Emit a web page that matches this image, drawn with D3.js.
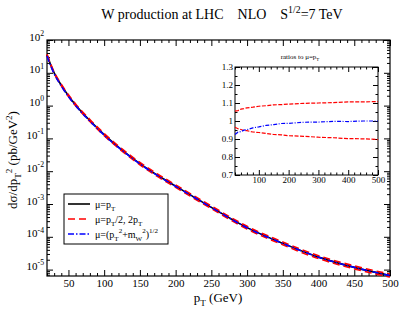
<!DOCTYPE html>
<html>
<head>
<meta charset="utf-8">
<script src="https://cdn.jsdelivr.net/npm/d3@7"></script>
<style>
  body { margin: 0; background: #fff; }
  text { font-family: "Liberation Serif", "DejaVu Serif", serif; fill: #000; }
</style>
</head>
<body>
<script>
// pT grid (GeV) shared by the main plot and the inset
var ptGrid = [20, 30, 40, 50, 60, 80, 100, 125, 150, 175, 200, 250, 300, 350, 400, 450, 500];
// d sigma / d pT^2 for mu = pT (pb/GeV^2)
var sigmaPt = [35, 10, 4.2, 2.0, 1.05, 0.35, 0.13, 0.044, 0.017, 0.0074, 0.0035, 7.9e-4, 1.9e-4, 6.3e-5, 2.4e-5, 1.17e-5, 6.6e-6];
// ratios to mu = pT
var ratioUp = [1.055, 1.058, 1.066, 1.069, 1.073, 1.077, 1.082, 1.085, 1.090, 1.091, 1.094, 1.098, 1.100, 1.102, 1.106, 1.106, 1.108];
var ratioDn = [0.965, 0.957, 0.953, 0.947, 0.946, 0.939, 0.936, 0.931, 0.925, 0.923, 0.918, 0.915, 0.910, 0.907, 0.902, 0.901, 0.897];
var ratioMw = [0.925, 0.938, 0.941, 0.949, 0.952, 0.962, 0.967, 0.976, 0.980, 0.986, 0.987, 0.993, 0.994, 0.998, 0.997, 1.000, 1.000];

var xTicks = [50, 100, 150, 200, 250, 300, 350, 400, 450, 500];
var yDecades = [-5, -4, -3, -2, -1, 0, 1, 2];
var insetXTicks = [100, 200, 300, 400, 500];
var insetYTicks = [0.7, 0.8, 0.9, 1.0, 1.1, 1.2, 1.3];

var W = 399, H = 311;
var svg = d3.select("body").append("svg").attr("width", W).attr("height", H);

// rich text with sub/superscripts
function rich(sel, parts, fs) {
    var cur = 0;
    parts.forEach(function(p) {
        var t = p[0], m = p[1];
        var target = m === "sup" ? -0.42 * fs : m === "sub" ? 0.3 * fs : 0;
        sel.append("tspan").attr("dy", target - cur)
            .attr("font-size", m ? fs * 0.7 : fs).text(t);
        cur = target;
    });
}

// main plot frame
var mL = 47, mR = 390, mT = 40, mB = 276;
var x = d3.scaleLinear().domain([20, 500]).range([mL, mR]);
var y = d3.scaleLog().domain([Math.pow(10, -5.195), 100]).range([mB, mT]);

var minorX = d3.range(20, 501, 10).filter(function(v) { return v % 50 !== 0; });
var minorY = [];
for (var e = -6; e <= 1; e++) for (var k = 2; k <= 9; k++) {
    var v = k * Math.pow(10, e);
    if (v >= y.domain()[0] && v <= 100) minorY.push(v);
}
var decVals = yDecades.map(function(d) { return Math.pow(10, d); });

function axes(g, a) { g.call(a).call(function(s) { s.select(".domain").remove(); }); }

// ticks inward on all four sides
axes(svg.append("g").attr("transform", "translate(0," + mB + ")"),
    d3.axisBottom(x).tickValues(xTicks).tickSizeInner(-6).tickSizeOuter(0).tickPadding(3));
axes(svg.append("g").attr("transform", "translate(0," + mB + ")"),
    d3.axisBottom(x).tickValues(minorX).tickSizeInner(-3).tickSizeOuter(0).tickFormat(""));
axes(svg.append("g").attr("transform", "translate(0," + mT + ")"),
    d3.axisTop(x).tickValues(xTicks).tickSizeInner(-6).tickSizeOuter(0).tickFormat(""));
axes(svg.append("g").attr("transform", "translate(0," + mT + ")"),
    d3.axisTop(x).tickValues(minorX).tickSizeInner(-3).tickSizeOuter(0).tickFormat(""));

var yAxisG = svg.append("g").attr("transform", "translate(" + mL + ",0)");
axes(yAxisG, d3.axisLeft(y).tickValues(decVals).tickSizeInner(-6).tickSizeOuter(0).tickPadding(3));
axes(svg.append("g").attr("transform", "translate(" + mL + ",0)"),
    d3.axisLeft(y).tickValues(minorY).tickSizeInner(-3).tickSizeOuter(0).tickFormat(""));
axes(svg.append("g").attr("transform", "translate(" + mR + ",0)"),
    d3.axisRight(y).tickValues(decVals).tickSizeInner(-6).tickSizeOuter(0).tickFormat(""));
axes(svg.append("g").attr("transform", "translate(" + mR + ",0)"),
    d3.axisRight(y).tickValues(minorY).tickSizeInner(-3).tickSizeOuter(0).tickFormat(""));

svg.selectAll(".tick text").attr("font-family", "Liberation Serif").attr("font-size", 11);
yAxisG.selectAll(".tick text").each(function(d) {
    var t = d3.select(this).text(null).attr("dy", "0.32em");
    rich(t, [["10", ""], [String(Math.round(Math.log10(d))), "sup"]], 11);
});

svg.append("rect").attr("x", mL).attr("y", mT).attr("width", mR - mL).attr("height", mB - mT)
    .attr("fill", "none").attr("stroke", "#000").attr("stroke-width", 1.2);

var line = d3.line().x(function(d) { return x(d[0]); }).y(function(d) { return y(d[1]); })
    .curve(d3.curveMonotoneX);

function series(vals) { return ptGrid.map(function(p, i) { return [p, vals[i]]; }); }
var main = series(sigmaPt);
var up = series(sigmaPt.map(function(s, i) { return s * ratioUp[i]; }));
var dn = series(sigmaPt.map(function(s, i) { return s * ratioDn[i]; }));
var mw = series(sigmaPt.map(function(s, i) { return s * ratioMw[i]; }));

svg.append("path").attr("d", line(main)).attr("fill", "none").attr("stroke", "#000").attr("stroke-width", 1.6);
[up, dn].forEach(function(s) {
    svg.append("path").attr("d", line(s)).attr("fill", "none").attr("stroke", "#ff0000")
        .attr("stroke-width", 1.6).attr("stroke-dasharray", "7,4");
});
svg.append("path").attr("d", line(mw)).attr("fill", "none").attr("stroke", "#0000ff")
    .attr("stroke-width", 1.6).attr("stroke-dasharray", "6,2,1.5,2");

// titles
var title = svg.append("text").attr("x", 222).attr("y", 19).attr("text-anchor", "middle")
    .attr("font-size", 14).attr("xml:space", "preserve");
rich(title, [["W production at LHC    NLO    S", ""], ["1/2", "sup"], ["=7 TeV", ""]], 14);

var xl = svg.append("text").attr("x", 218).attr("y", 302).attr("text-anchor", "middle");
rich(xl, [["p", ""], ["T", "sub"], [" (GeV)", ""]], 13);

var yl = svg.append("text").attr("transform", "translate(17,160) rotate(-90)").attr("text-anchor", "middle");
rich(yl, [["d\u03c3/dp", ""], ["T", "sub"], ["2", "sup"], [" (pb/GeV", ""], ["2", "sup"], [")", ""]], 13);

// legend
var lg = svg.append("g");
lg.append("rect").attr("x", 64).attr("y", 194).attr("width", 104).attr("height", 50)
    .attr("fill", "#fff").attr("stroke", "#000").attr("stroke-width", 1);
var legendRows = [
    { c: "#000", dash: null, parts: [["\u03bc=p", ""], ["T", "sub"]] },
    { c: "#ff0000", dash: "7,4", parts: [["\u03bc=p", ""], ["T", "sub"], ["/2, 2p", ""], ["T", "sub"]] },
    { c: "#0000ff", dash: "6,2,1.5,2", parts: [["\u03bc=(p", ""], ["T", "sub"], ["2", "sup"], ["+m", ""], ["W", "sub"], ["2", "sup"], [")", ""], ["1/2", "sup"]] }
];
legendRows.forEach(function(r, i) {
    var yy = 204 + i * 15;
    lg.append("line").attr("x1", 68).attr("x2", 90).attr("y1", yy).attr("y2", yy)
        .attr("stroke", r.c).attr("stroke-width", 1.6).attr("stroke-dasharray", r.dash);
    var t = lg.append("text").attr("x", 95).attr("y", yy + 3.5);
    rich(t, r.parts, 10);
});

// inset
var il = 235, ir = 378, it = 67, ib = 175;
var xi = d3.scaleLinear().domain([20, 500]).range([il, ir]);
var yi = d3.scaleLinear().domain([0.7, 1.3]).range([ib, it]);
var iMinorX = d3.range(20, 501, 20).filter(function(v) { return v % 100 !== 0; });
var iMinorY = [0.75, 0.85, 0.95, 1.05, 1.15, 1.25];

svg.append("rect").attr("x", il).attr("y", it).attr("width", ir - il).attr("height", ib - it)
    .attr("fill", "#fff").attr("stroke", "#000").attr("stroke-width", 1);

axes(svg.append("g").attr("transform", "translate(0," + ib + ")"),
    d3.axisBottom(xi).tickValues(insetXTicks).tickSizeInner(-5).tickSizeOuter(0).tickPadding(2));
axes(svg.append("g").attr("transform", "translate(0," + ib + ")"),
    d3.axisBottom(xi).tickValues(iMinorX).tickSizeInner(-2.5).tickSizeOuter(0).tickFormat(""));
axes(svg.append("g").attr("transform", "translate(0," + it + ")"),
    d3.axisTop(xi).tickValues(insetXTicks).tickSizeInner(-5).tickSizeOuter(0).tickFormat(""));
axes(svg.append("g").attr("transform", "translate(0," + it + ")"),
    d3.axisTop(xi).tickValues(iMinorX).tickSizeInner(-2.5).tickSizeOuter(0).tickFormat(""));
var iyG = svg.append("g").attr("transform", "translate(" + il + ",0)");
axes(iyG, d3.axisLeft(yi).tickValues(insetYTicks).tickSizeInner(-5).tickSizeOuter(0).tickPadding(2)
    .tickFormat(function(d) { return d3.format("~g")(d); }));
axes(svg.append("g").attr("transform", "translate(" + il + ",0)"),
    d3.axisLeft(yi).tickValues(iMinorY).tickSizeInner(-2.5).tickSizeOuter(0).tickFormat(""));
axes(svg.append("g").attr("transform", "translate(" + ir + ",0)"),
    d3.axisRight(yi).tickValues(insetYTicks).tickSizeInner(-5).tickSizeOuter(0).tickFormat(""));
axes(svg.append("g").attr("transform", "translate(" + ir + ",0)"),
    d3.axisRight(yi).tickValues(iMinorY).tickSizeInner(-2.5).tickSizeOuter(0).tickFormat(""));

svg.selectAll(".tick text").filter(function() { return !this.getAttribute("font-size"); })
    .attr("font-family", "Liberation Serif").attr("font-size", 9);

var iline = d3.line().x(function(d) { return xi(d[0]); }).y(function(d) { return yi(d[1]); });
[ratioUp, ratioDn].forEach(function(r) {
    svg.append("path").attr("d", iline(series(r))).attr("fill", "none").attr("stroke", "#ff0000")
        .attr("stroke-width", 1.2).attr("stroke-dasharray", "4,1.5");
});
svg.append("path").attr("d", iline(series(ratioMw))).attr("fill", "none").attr("stroke", "#0000ff")
    .attr("stroke-width", 1.2).attr("stroke-dasharray", "4,1.5,1,1.5");

var itl = svg.append("text").attr("x", 300).attr("y", 59).attr("text-anchor", "middle");
rich(itl, [["ratios  to  \u03bc=p", ""], ["T", "sub"]], 7);
</script>
</body>
</html>
